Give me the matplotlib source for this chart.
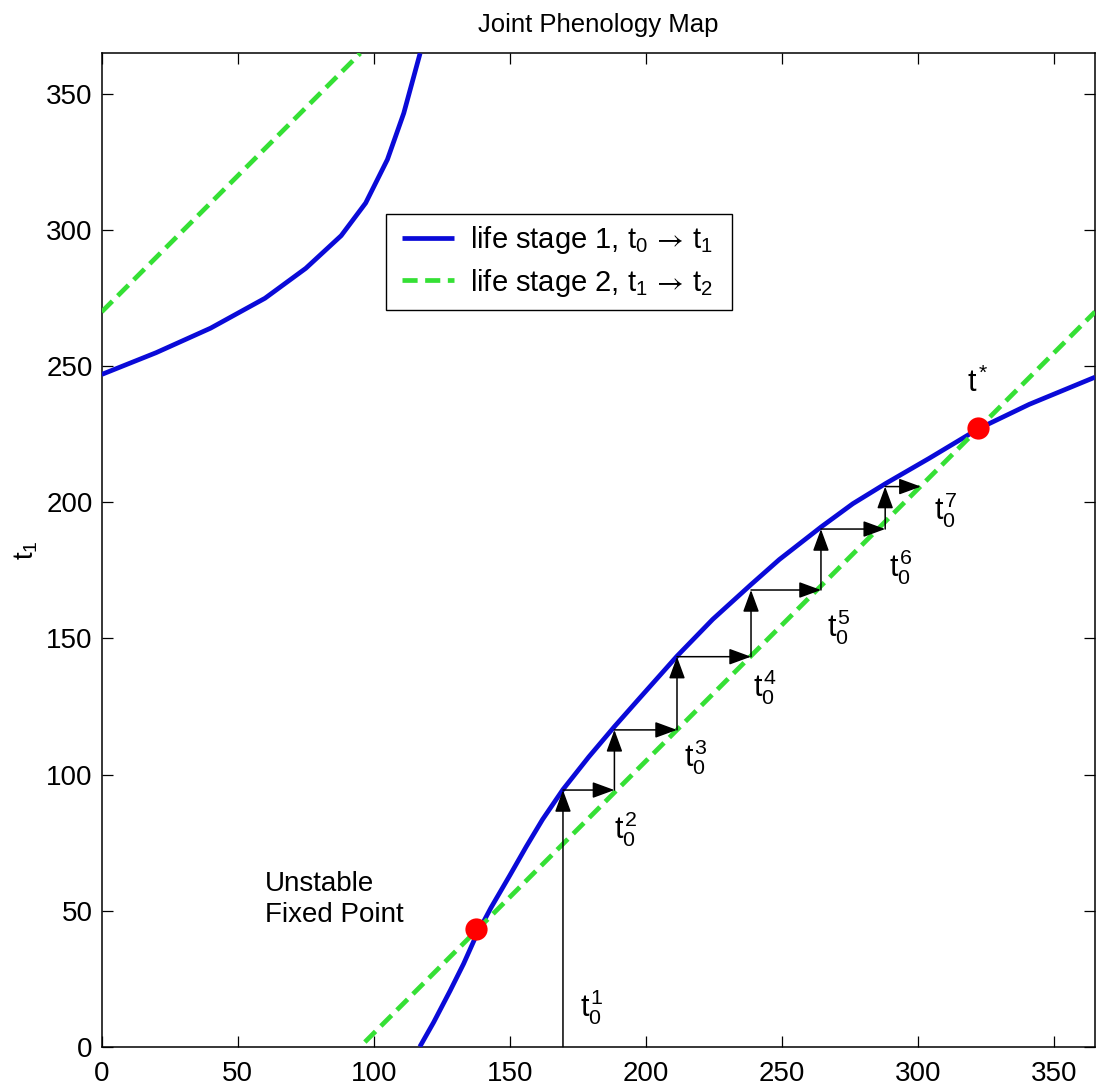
import matplotlib
matplotlib.use("Agg")
import matplotlib.pyplot as plt
from matplotlib.patches import Rectangle

plt.rcParams['font.family'] = ['Liberation Sans', 'DejaVu Sans']
plt.rcParams['mathtext.fontset'] = 'custom'
plt.rcParams['mathtext.rm'] = 'Liberation Sans'
plt.rcParams['mathtext.it'] = 'Liberation Sans'
plt.rcParams['mathtext.bf'] = 'Liberation Sans:bold'
plt.rcParams['mathtext.sf'] = 'STIXGeneral'

# ---- data ----
blue_lower_x = [116.9, 122, 128, 133, 137.7, 143, 150, 156, 162, 169.5, 179, 188.4, 197.6,
                211.4, 224.5, 238.6, 249, 264.4, 276, 288.2, 304.1, 322.1, 340.8, 365]
blue_lower_y = [0, 9, 20.5, 30.5, 41, 51, 63, 73.5, 83.5, 94.5, 106.5, 117.6, 128,
                143.5, 157, 169.8, 179, 191, 199.5, 207, 216.2, 227, 236, 246]
blue_upper_x = [0, 20, 40, 60, 75, 88, 97, 105, 111, 117]
blue_upper_y = [247, 255, 264, 275, 286, 298, 310, 326, 343, 365]

green_lower_x = [96.7, 365]
green_lower_y = [1.7, 270]
green_upper_x = [0, 95]
green_upper_y = [270, 365]

fixed_x = [137.7, 322.1]
fixed_y = [43.1, 227.5]

cob_x = [169.5, 188.4, 211.4, 238.6, 264.3, 287.9, 301]
cob_y = [0, 94.3, 116.4, 143.3, 167.8, 190.2, 205.8]

lab_text = [r'$t_0^1$', r'$t_0^2$', r'$t_0^3$', r'$t_0^4$', r'$t_0^5$', r'$t_0^6$', r'$t_0^7$', r'$t^{\!*}$']
lab_x = [175.6, 188.4, 214.1, 239.2, 266.6, 289.4, 305.9, 318]
lab_y = [11, 76.6, 102.9, 128.6, 150.7, 172.7, 193.6, 240.7]

legend_labels = [r'life stage 1, $t_0\,\mathsf{\rightarrow}\,t_1$',
                 r'life stage 2, $t_1\,\mathsf{\rightarrow}\,t_2$']

xticks = [0, 50, 100, 150, 200, 250, 300, 350]
yticks = [0, 50, 100, 150, 200, 250, 300, 350]

W, H = 1096, 1086
# ---- figure ----
fig = plt.figure(figsize=(W / 100, H / 100), dpi=100)
ax = fig.add_axes([101.7 / W, (H - 1046.7) / H, (1095 - 101.7) / W, (1046.7 - 53.3) / H])

blue = '#0a0ad8'
green = '#35e035'

l1, = ax.plot(blue_lower_x, blue_lower_y, color=blue, lw=3.4, solid_capstyle='butt',
              solid_joinstyle='round', label=legend_labels[0], zorder=3)
ax.plot(blue_upper_x, blue_upper_y, color=blue, lw=3.4, solid_capstyle='butt',
        solid_joinstyle='round', zorder=3)
l2, = ax.plot(green_lower_x, green_lower_y, color=green, lw=3.4, dashes=(3.2, 1.6),
              label=legend_labels[1], zorder=4)
ax.plot(green_upper_x, green_upper_y, color=green, lw=3.4, dashes=(3.2, 1.6), zorder=4)

ax.plot(fixed_x, fixed_y, 'o', color='#ff0000', markersize=16, markeredgewidth=0, zorder=6)

astyle = dict(arrowstyle='-|>,head_length=0.9,head_width=0.33', color='black', lw=1.1,
              shrinkA=0, shrinkB=0, mutation_scale=15)
for k in range(len(cob_x) - 1):
    # vertical step
    ax.annotate('', xy=(cob_x[k], cob_y[k + 1]), xytext=(cob_x[k], cob_y[k]),
                arrowprops=astyle, zorder=5)
    # horizontal step
    ax.annotate('', xy=(cob_x[k + 1], cob_y[k + 1]), xytext=(cob_x[k], cob_y[k + 1]),
                arrowprops=astyle, zorder=5)

for s, x, y in zip(lab_text, lab_x, lab_y):
    ax.text(x, y, s, fontsize=22, ha='left', va='baseline', zorder=7)

ax.text(60, 45.9, 'Unstable\nFixed Point', fontsize=20, ha='left', va='baseline',
        linespacing=1.25)

ax.set_xlim(0, 365)
ax.set_ylim(0, 365)
ax.set_xticks(xticks)
ax.set_yticks(yticks)
ax.tick_params(direction='in', length=8, width=0.9, top=True, right=True, labelsize=20)
ax.tick_params(axis='x', pad=10)
ax.tick_params(axis='y', pad=6.5)
for sp in ax.spines.values():
    sp.set_linewidth(1.1)
    sp.set_color('black')

ax.set_ylabel(r'$t_1$', fontsize=20)
ax.yaxis.set_label_coords(-0.062, 0.5)

ax.set_title('Joint Phenology Map', fontsize=18.5, pad=15)

# legend frame (drawn separately so that its padding matches)
frame = Rectangle((386 / W, 1 - 310 / H), (731.7 - 386) / W, (310 - 214) / H,
                  transform=fig.transFigure, facecolor='white',
                  edgecolor='black', lw=1.0, zorder=8, clip_on=False)
ax.add_patch(frame)
leg = ax.legend(handles=[l1, l2], loc='center left',
                bbox_to_anchor=(401.7 / W, 1 - 261.2 / H),
                bbox_transform=fig.transFigure, borderaxespad=0, borderpad=0, fontsize=21,
                frameon=False, handlelength=1.78, handletextpad=0.57,
                labelspacing=0.37)
leg.set_zorder(9)

fig.savefig('out.png', dpi=100)
